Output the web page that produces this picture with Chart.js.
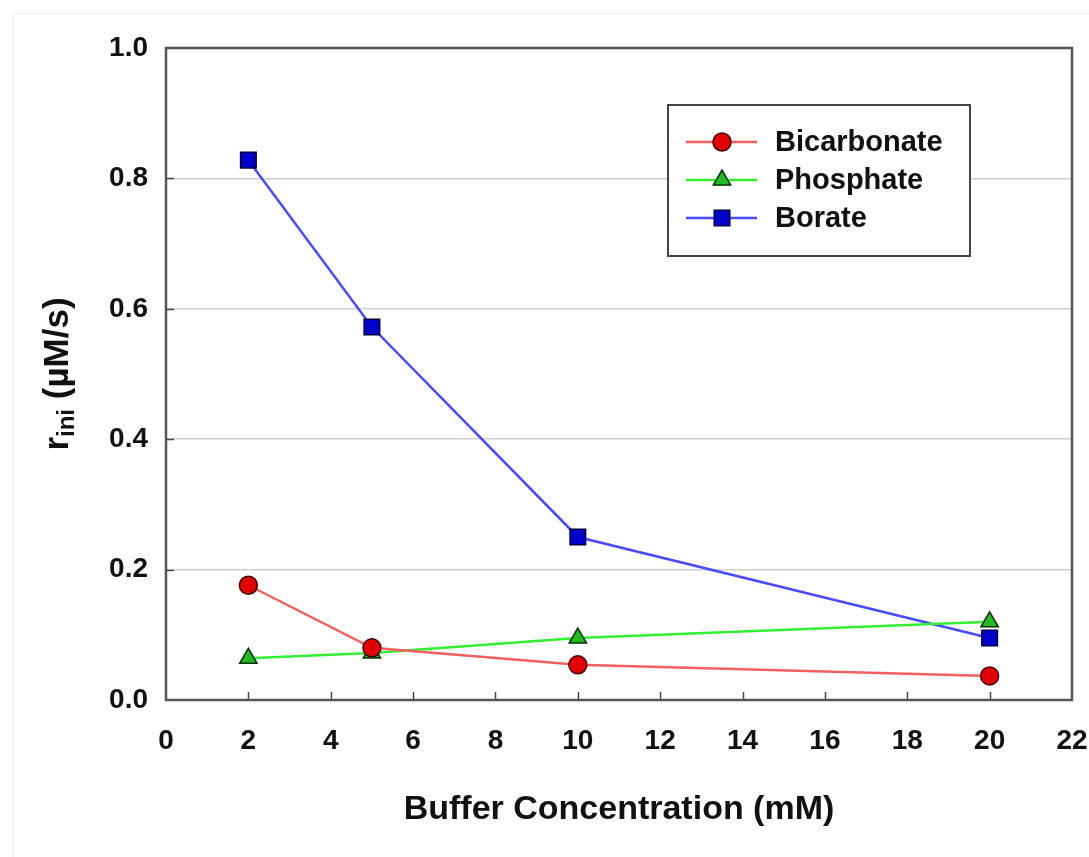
<!DOCTYPE html>
<html>
<head>
<meta charset="utf-8">
<script src="https://cdn.jsdelivr.net/npm/chart.js@4.4.1/dist/chart.umd.min.js"></script>
<style>
  html, body { margin: 0; padding: 0; background: #fff; }
  #wrap { width: 1089px; height: 857px; position: relative; }
</style>
</head>
<body>
<div id="wrap"><canvas id="myChart" width="1089" height="857"></canvas></div>
<script>
'use strict';

// data
let concentration = [2, 5, 10, 20];
let bicarbonate = [0.176, 0.080, 0.054, 0.037];
let phosphate = [0.064, 0.072, 0.095, 0.120];
let borate = [0.828, 0.572, 0.250, 0.095];
let seriesNames = ['Bicarbonate', 'Phosphate', 'Borate'];
let xTitle = 'Buffer Concentration (mM)';

let FONT = '"Liberation Sans", Arial, sans-serif';

function points(vals) {
  return concentration.map((c, i) => ({ x: c, y: vals[i] }));
}

// frame, inward ticks, y title with subscript, legend box
let extras = {
  id: 'extras',
  beforeDraw(chart) {
    let ctx = chart.ctx;
    ctx.save();
    ctx.strokeStyle = '#eeeeee';
    ctx.lineWidth = 1;
    ctx.strokeRect(13.5, 13.5, 1100, 900);
    ctx.restore();
  },
  afterDatasetsDraw(chart) {
    let ctx = chart.ctx;
    let a = chart.chartArea;
    let xs = chart.scales.x;
    let ys = chart.scales.y;
    ctx.save();
    ctx.strokeStyle = '#444';
    ctx.lineWidth = 1.5;
    for (let v = 2; v < 22; v += 2) {
      let px = Math.round(xs.getPixelForValue(v)) + 0.5;
      ctx.beginPath(); ctx.moveTo(px, a.bottom); ctx.lineTo(px, a.bottom - 8); ctx.stroke();
    }
    for (let v = 0.2; v < 1; v += 0.2) {
      let py = Math.round(ys.getPixelForValue(v)) + 0.5;
      ctx.beginPath(); ctx.moveTo(a.left, py); ctx.lineTo(a.left + 8, py); ctx.stroke();
    }
    ctx.strokeStyle = '#555';
    ctx.lineWidth = 2.5;
    ctx.strokeRect(a.left, a.top, a.right - a.left, a.bottom - a.top);

    // y title: r_ini (µM/s)
    ctx.translate(58, 374);
    ctx.rotate(-Math.PI / 2);
    ctx.fillStyle = '#111';
    ctx.textBaseline = 'middle';
    let big = 'bold 35px ' + FONT;
    let small = 'bold 24px ' + FONT;
    ctx.font = big; let w1 = ctx.measureText('r').width;
    ctx.font = small; let w2 = ctx.measureText('ini').width;
    ctx.font = big; let w3 = ctx.measureText(' (\u00b5M/s)').width;
    let x0 = -(w1 + w2 + w3) / 2;
    ctx.font = big; ctx.fillText('r', x0, 0);
    ctx.font = small; ctx.fillText('ini', x0 + w1, 9);
    ctx.font = big; ctx.fillText(' (\u00b5M/s)', x0 + w1 + w2, 0);
    ctx.restore();

    // legend
    ctx.save();
    ctx.fillStyle = '#fff';
    ctx.fillRect(668, 105, 302, 151);
    ctx.strokeStyle = '#444';
    ctx.lineWidth = 2;
    ctx.strokeRect(668, 105, 302, 151);
    chart.data.datasets.forEach((ds, i) => {
      let y = 142 + i * 38;
      ctx.strokeStyle = ds.borderColor;
      ctx.lineWidth = ds.borderWidth;
      ctx.beginPath(); ctx.moveTo(686, y); ctx.lineTo(757, y); ctx.stroke();
      ctx.fillStyle = ds.pointBackgroundColor;
      ctx.strokeStyle = ds.pointBorderColor;
      ctx.lineWidth = ds.pointBorderWidth;
      Chart.helpers.drawPoint(ctx, {
        pointStyle: ds.pointStyle, radius: ds.pointRadius, borderWidth: ds.pointBorderWidth
      }, 722, y);
      ctx.fillStyle = '#111';
      ctx.font = 'bold 29px ' + FONT;
      ctx.textBaseline = 'middle';
      ctx.fillText(ds.label, 775, y + 1);
    });
    ctx.restore();
  }
};

let ctx = document.getElementById('myChart').getContext('2d');

let myChart = new Chart(ctx, {
  type: 'line',
  data: {
    datasets: [
      {
        label: seriesNames[0],
        data: points(bicarbonate),
        borderColor: '#f06060',
        borderWidth: 2.5,
        pointStyle: 'circle',
        pointRadius: 9,
        pointBackgroundColor: '#e00000',
        pointBorderColor: '#400000',
        pointBorderWidth: 1.5
      },
      {
        label: seriesNames[1],
        data: points(phosphate),
        borderColor: '#33ee33',
        borderWidth: 2.5,
        pointStyle: 'triangle',
        pointRadius: 10,
        pointBackgroundColor: '#22bb22',
        pointBorderColor: '#003300',
        pointBorderWidth: 1.5
      },
      {
        label: seriesNames[2],
        data: points(borate),
        borderColor: '#4a4aff',
        borderWidth: 2.5,
        pointStyle: 'rect',
        pointRadius: 11,
        pointBackgroundColor: '#0000cc',
        pointBorderColor: '#000044',
        pointBorderWidth: 1.5
      }
    ]
  },
  options: {
    responsive: false,
    animation: false,
    layout: { padding: { left: 0, top: 48, right: 17, bottom: 0 } },
    plugins: { legend: { display: false }, tooltip: { enabled: false } },
    scales: {
      x: {
        type: 'linear',
        min: 0,
        max: 22,
        afterFit(s) { s.height = 157; s.paddingLeft = 0; s.paddingRight = 0; },
        grid: { display: false, drawTicks: false },
        border: { display: false },
        ticks: {
          stepSize: 2,
          padding: 24,
          color: '#111',
          font: { family: FONT, size: 28, weight: 'bold' }
        },
        title: {
          display: true,
          text: xTitle,
          color: '#111',
          padding: { top: 0, bottom: 27 },
          font: { family: FONT, size: 34, weight: 'bold' }
        }
      },
      y: {
        min: 0,
        max: 1,
        afterFit(s) { s.width = 166; s.paddingTop = 0; s.paddingBottom = 0; },
        grid: { color: '#cfcfcf', lineWidth: 1.5, drawTicks: false },
        border: { display: false },
        ticks: {
          stepSize: 0.2,
          padding: 18,
          color: '#111',
          font: { family: FONT, size: 28, weight: 'bold' },
          callback: (v) => v.toFixed(1)
        }
      }
    }
  },
  plugins: [extras]
});
</script>
</body>
</html>
